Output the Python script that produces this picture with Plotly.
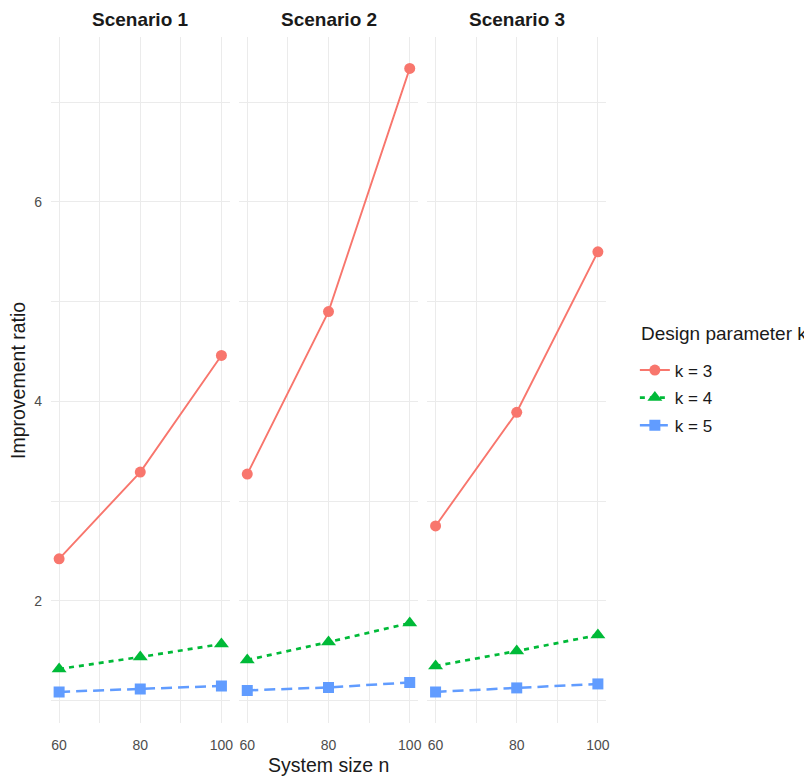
import plotly.graph_objects as go

# ---- data ----
n_values = [60, 80, 100]
scenarios = ["Scenario 1", "Scenario 2", "Scenario 3"]
k_labels = ["k = 3", "k = 4", "k = 5"]

k3_s1 = [2.42, 3.29, 4.46]
k3_s2 = [3.27, 4.90, 7.34]
k3_s3 = [2.75, 3.89, 5.50]
k4_s1 = [1.315, 1.435, 1.565]
k4_s2 = [1.405, 1.585, 1.775]
k4_s3 = [1.345, 1.495, 1.655]
k5_s1 = [1.085, 1.115, 1.145]
k5_s2 = [1.10, 1.13, 1.18]
k5_s3 = [1.085, 1.125, 1.165]

y_tickvals = [1, 2, 3, 4, 5, 6, 7]
y_ticktext = ["", "2", "", "4", "", "6", ""]
x_tickvals = [60, 70, 80, 90, 100]
x_ticktext = ["60", "", "80", "", "100"]

series = {
    "k = 3": [k3_s1, k3_s2, k3_s3],
    "k = 4": [k4_s1, k4_s2, k4_s3],
    "k = 5": [k5_s1, k5_s2, k5_s3],
}
colors = {"k = 3": "#F8766D", "k = 4": "#00BA38", "k = 5": "#619CFF"}
dashes = {"k = 3": "solid", "k = 4": "5px,5px", "k = 5": "11px,6px"}
symbols = {"k = 3": "circle", "k = 4": "triangle-up", "k = 5": "square"}
msizes = {"k = 3": 11, "k = 4": 13, "k = 5": 11}
lwidths = {"k = 3": 1.9, "k = 4": 2.7, "k = 5": 2.5}

FONT = "Liberation Sans, Arial, sans-serif"
fig = go.Figure()

for k in k_labels:
    for i, sc in enumerate(scenarios):
        ax = "" if i == 0 else str(i + 1)
        fig.add_trace(go.Scatter(
            x=n_values, y=series[k][i],
            mode="lines+markers",
            name=k, legendgroup=k, showlegend=(i == 0),
            line=dict(color=colors[k], dash=dashes[k], width=lwidths[k]),
            marker=dict(color=colors[k], symbol=symbols[k], size=msizes[k]),
            xaxis="x" + ax, yaxis="y" + ax,
        ))

domains = [[0.0, 0.3217], [0.339, 0.661], [0.6783, 1.0]]
grid = "#EBEBEB"
layout = dict(
    template="none",
    width=804, height=768,
    margin=dict(l=43, r=206, t=29, b=53, autoexpand=False),
    paper_bgcolor="white", plot_bgcolor="white",
    font=dict(family=FONT, color="#1A1A1A"),
    showlegend=True,
    legend=dict(
        x=1.052, y=0.4738, xanchor="left", yanchor="middle",
        font=dict(size=17, color="#1A1A1A"),
        itemwidth=30, tracegroupgap=2.5, bgcolor="rgba(0,0,0,0)",
    ),
)
for i in range(3):
    sfx = "" if i == 0 else str(i + 1)
    layout["xaxis" + sfx] = dict(
        domain=domains[i], range=[58, 102], anchor="y" + sfx,
        tickvals=x_tickvals, ticktext=x_ticktext,
        showgrid=True, gridcolor=grid, gridwidth=1.2, zeroline=False,
        showline=False, ticks="", ticklabelstandoff=12, automargin=False,
        tickfont=dict(size=14, color="#4D4D4D"), fixedrange=True,
    )
    layout["yaxis" + sfx] = dict(
        range=[0.773, 7.655], anchor="x" + sfx,
        matches=None if i == 0 else "y",
        tickvals=y_tickvals, ticktext=y_ticktext,
        showticklabels=(i == 0), automargin=False,
        showgrid=True, gridcolor=grid, gridwidth=1.2, zeroline=False,
        showline=False, ticks="", ticklabelstandoff=8,
        tickfont=dict(size=14, color="#4D4D4D"),
    )
fig.update_layout(**layout)

annotations = []
for i, sc in enumerate(scenarios):
    annotations.append(dict(
        text="<b>" + sc + "</b>", x=(domains[i][0] + domains[i][1]) / 2, y=1.0248,
        xref="paper", yref="paper", xanchor="center", yanchor="middle",
        showarrow=False, font=dict(size=19, color="#1A1A1A", family=FONT),
    ))
annotations.append(dict(
    text="System size n", x=0.5, y=-0.0612, xref="paper", yref="paper",
    xanchor="center", yanchor="middle", showarrow=False,
    font=dict(size=19.5, color="#1A1A1A", family=FONT),
))
annotations.append(dict(
    text="Improvement ratio", x=-0.0595, y=0.5, xref="paper", yref="paper",
    xanchor="center", yanchor="middle", textangle=-90, showarrow=False,
    font=dict(size=19.5, color="#1A1A1A", family=FONT),
))
annotations.append(dict(
    text="Design parameter k", x=1.0595, y=0.5685, xref="paper", yref="paper",
    xanchor="left", yanchor="middle", showarrow=False,
    font=dict(size=19, color="#1A1A1A", family=FONT),
))
fig.update_layout(annotations=annotations)

fig.write_html("out.html")
